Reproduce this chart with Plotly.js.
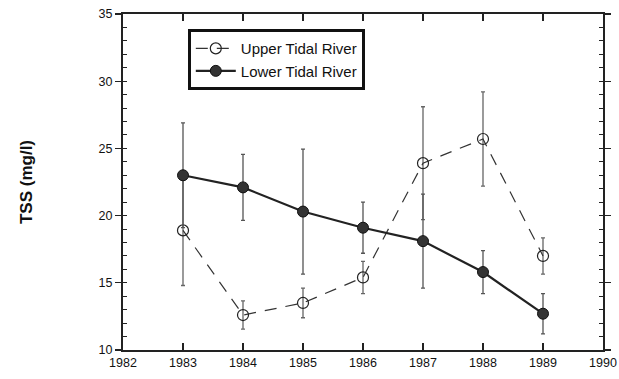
<!DOCTYPE html>
<html><head><meta charset="utf-8">
<script src="https://cdn.plot.ly/plotly-3.0.1.min.js"></script>
<style>html,body{margin:0;padding:0;background:#fff}</style>
</head><body>
<div id="chart" style="width:619px;height:379px"></div>
<script>
const years = [1983, 1984, 1985, 1986, 1987, 1988, 1989];
const upperTSS = [18.9, 12.6, 13.5, 15.4, 23.9, 25.7, 17.0];
const upperErr = [4.1, 1.05, 1.1, 1.2, 4.2, 3.5, 1.35];
const lowerTSS = [23.0, 22.1, 20.3, 19.1, 18.1, 15.8, 12.7];
const lowerErr = [3.9, 2.45, 4.65, 1.9, 3.5, 1.6, 1.5];
const yTicks = [10, 15, 20, 25, 30, 35];
const xTicks = [1982, 1983, 1984, 1985, 1986, 1987, 1988, 1989, 1990];

const traces = [
  {
    x: years, y: upperTSS, name: 'Upper Tidal River', type: 'scatter', mode: 'lines+markers',
    line: {color: '#333', width: 1.2, dash: '12px,9px'},
    marker: {symbol: 'circle-open', size: 11, color: '#222', line: {width: 1.2}},
    error_y: {type: 'data', array: upperErr, visible: true, color: '#666', thickness: 1.3, width: 2}
  },
  {
    x: years, y: lowerTSS, name: 'Lower Tidal River', type: 'scatter', mode: 'lines+markers',
    line: {color: '#222', width: 2.2},
    marker: {symbol: 'circle', size: 11, color: '#333', line: {color: '#111', width: 1}},
    error_y: {type: 'data', array: lowerErr, visible: true, color: '#555', thickness: 1.3, width: 2}
  },
  { x: [1982], y: [10], yaxis: 'y2', showlegend: false, mode: 'markers', marker: {opacity: 0}, hoverinfo: 'skip' }
];

const layout = {
  width: 619, height: 379,
  margin: {l: 123, r: 16, t: 14, b: 29},
  paper_bgcolor: '#fff', plot_bgcolor: '#fff',
  font: {family: 'Liberation Sans, Arial, sans-serif', color: '#111', size: 12},
  showlegend: true,
  legend: {
    x: 0.135, y: 0.955, xanchor: 'left', yanchor: 'top',
    bordercolor: '#111', borderwidth: 3, bgcolor: '#fff',
    font: {size: 15, family: 'Liberation Sans, Arial, sans-serif'},
    tracegroupgap: 0, itemwidth: 40
  },
  xaxis: {
    range: [1982, 1990], tickvals: xTicks, ticktext: xTicks.map(String),
    ticks: 'inside', ticklen: 7, tickwidth: 1.2, tickcolor: '#222',
    showline: true, linecolor: '#222', linewidth: 2, mirror: 'ticks',
    showgrid: false, zeroline: false, tickfont: {size: 12.5}
  },
  yaxis: {
    range: [10, 35], tickvals: yTicks, ticktext: yTicks.map(String),
    ticks: 'outside', ticklen: 6, tickwidth: 1.2, tickcolor: '#222',
    showline: true, linecolor: '#222', linewidth: 2, mirror: 'ticks',
    showgrid: false, zeroline: false, tickfont: {size: 12.5},
    title: {text: 'TSS (mg/l)', font: {size: 17, family: 'Liberation Sans, Arial, sans-serif', weight: 'bold'}, standoff: 62}
  },
  yaxis2: {
    overlaying: 'y', range: [10, 35], dtick: 1, tick0: 10,
    ticks: 'inside', ticklen: 4, tickwidth: 1, tickcolor: '#222',
    showticklabels: false, showline: false, mirror: 'ticks',
    showgrid: false, zeroline: false
  }
};

Plotly.newPlot('chart', traces, layout, {staticPlot: true});
</script>
</body></html>
